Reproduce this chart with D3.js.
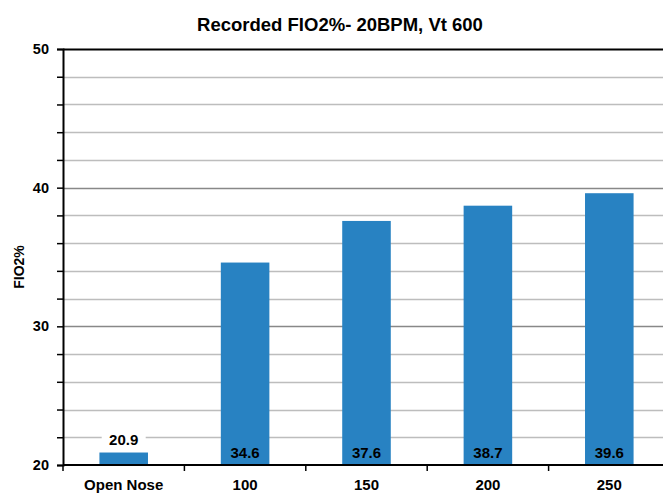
<!DOCTYPE html>
<html>
<head>
<meta charset="utf-8">
<script src="https://cdnjs.cloudflare.com/ajax/libs/d3/7.8.5/d3.min.js"></script>
<style>
body { margin: 0; background: #fff; }
svg { display: block; font-family: "Liberation Sans", Arial, sans-serif; }
</style>
</head>
<body>
<script>
'use strict';
let categories = ["Open Nose", "100", "150", "200", "250"];
let fio2Values = [20.9, 34.6, 37.6, 38.7, 39.6];
let yTickLabels = [20, 30, 40, 50];

let width = 663, height = 493;
let margin = {top: 49, left: 63, bottom: 465, right: 670};

let svg = d3.select("body").append("svg")
	.attr("width", width)
	.attr("height", height);

let x = d3.scaleBand()
	.domain(categories)
	.range([margin.left, margin.right])
	.paddingInner(0.6)
	.paddingOuter(0.3);

let y = d3.scaleLinear()
	.domain([20, 50])
	.range([margin.bottom, margin.top]);

// gridlines every 2, darker at every 10
let gridVals = d3.range(22, 50, 2);
svg.selectAll("line.grid")
	.data(gridVals)
	.enter().append("line")
		.attr("class", "grid")
		.attr("x1", margin.left)
		.attr("x2", width)
		.attr("y1", function(d){return Math.round(y(d)) + 0.5;})
		.attr("y2", function(d){return Math.round(y(d)) + 0.5;})
		.attr("stroke", function(d){return d % 10 === 0 ? "#888" : "#bdbdbd";})
		.attr("stroke-width", 1.5);

// top border
svg.append("line")
	.attr("x1", margin.left).attr("x2", width)
	.attr("y1", Math.round(y(50)) + 0.5).attr("y2", Math.round(y(50)) + 0.5)
	.attr("stroke", "#000").attr("stroke-width", 2);

// bars
svg.selectAll("rect.bar")
	.data(fio2Values)
	.enter().append("rect")
		.attr("class", "bar")
		.attr("x", function(d,i){return x(categories[i]);})
		.attr("width", x.bandwidth())
		.attr("y", function(d){return y(d);})
		.attr("height", function(d){return y(20) - y(d);})
		.attr("fill", "#2882c2");

// y axis
let yAxis = d3.axisLeft(y)
	.tickValues(d3.range(20, 51, 2))
	.tickSize(6)
	.tickFormat(function(d){return yTickLabels.indexOf(d) >= 0 ? d : "";});
let gy = svg.append("g")
	.attr("transform", "translate(" + margin.left + ",0)")
	.call(yAxis);
gy.select(".domain").attr("stroke", "#000").attr("stroke-width", 2);
gy.selectAll(".tick line").attr("stroke", "#000").attr("stroke-width", 1.5);
gy.selectAll(".tick text")
	.attr("x", -14)
	.style("font-size", "14.5px")
	.style("font-weight", "bold")
	.attr("fill", "#000");

// x axis
let xBounds = categories.map(function(c){return x(c) - x.step() * x.paddingInner() / 2;});
svg.append("line")
	.attr("x1", margin.left).attr("x2", width)
	.attr("y1", y(20)).attr("y2", y(20))
	.attr("stroke", "#000").attr("stroke-width", 2);
svg.selectAll("line.xtick")
	.data(xBounds)
	.enter().append("line")
		.attr("class", "xtick")
		.attr("x1", function(d){return d;})
		.attr("x2", function(d){return d;})
		.attr("y1", y(20))
		.attr("y2", y(20) + 6)
		.attr("stroke", "#000")
		.attr("stroke-width", 1.5);
svg.selectAll("text.xlab")
	.data(categories)
	.enter().append("text")
		.attr("class", "xlab")
		.attr("x", function(d){return x(d) + x.bandwidth() / 2;})
		.attr("y", 490)
		.attr("text-anchor", "middle")
		.style("font-size", "15px")
		.style("font-weight", "bold")
		.text(function(d){return d;});

// value labels
let labels = svg.selectAll("g.vlab")
	.data(fio2Values)
	.enter().append("g")
		.attr("class", "vlab")
		.attr("transform", function(d,i){
			let cx = x(categories[i]) + x.bandwidth() / 2;
			let cy = (y(d) - y(20)) < -20 ? y(20) - 7.5 : y(d) - 7.5;
			return "translate(" + cx + "," + cy + ")";
		});
labels.filter(function(d){return y(20) - y(d) < 20;})
	.append("rect")
		.attr("x", -22).attr("y", -16)
		.attr("width", 44).attr("height", 20)
		.attr("fill", "#fff");
labels.append("text")
	.attr("text-anchor", "middle")
	.style("font-size", "15px")
	.style("font-weight", "bold")
	.attr("fill", "#000")
	.text(function(d){return d.toFixed(1);});

// title
svg.append("text")
	.attr("x", 340)
	.attr("y", 31)
	.attr("text-anchor", "middle")
	.style("font-size", "18.5px")
	.style("font-weight", "bold")
	.text("Recorded FIO2%- 20BPM, Vt 600");

// y axis title
svg.append("text")
	.attr("transform", "translate(24,267) rotate(-90)")
	.attr("text-anchor", "middle")
	.style("font-size", "14px")
	.style("font-weight", "bold")
	.text("FIO2%");
</script>
</body>
</html>
